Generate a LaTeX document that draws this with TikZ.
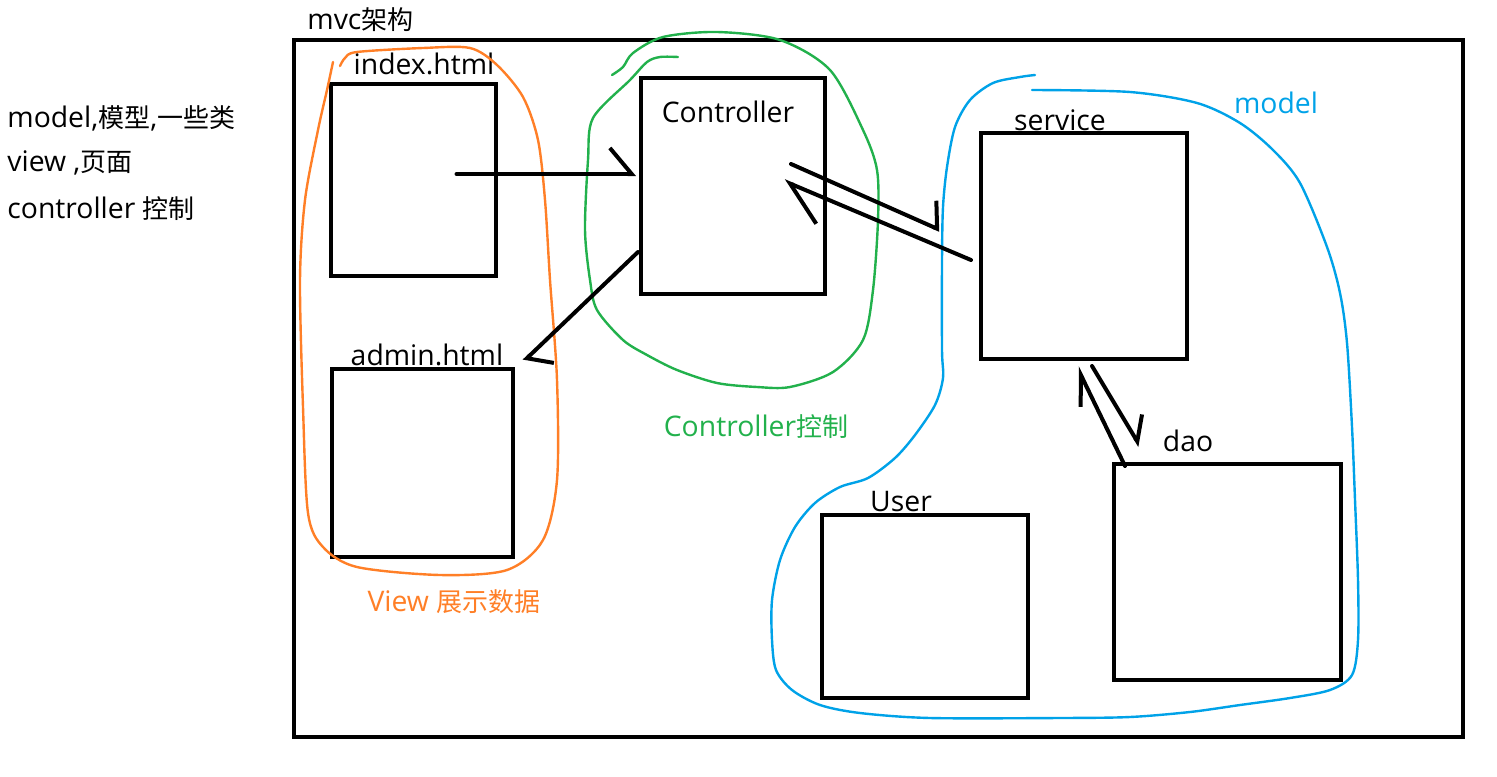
\documentclass[tikz,border=0pt]{standalone}
\usepackage{fontspec}
\setmainfont{Open Sans}[Scale=1.09]
\newfontfamily\cjk{Noto Sans CJK SC}
\usetikzlibrary{arrows.meta,positioning}

\definecolor{vieworange}{HTML}{FF7F27}
\definecolor{ctrlgreen}{HTML}{22B14C}
\definecolor{modelblue}{HTML}{00A2E8}

\begin{document}
\begin{tikzpicture}[x=0.5pt, y=-0.5pt,
    every node/.style={font=\fontsize{13}{15}\selectfont, inner sep=0pt},
    pagebox/.style={rectangle, draw, line width=2pt},
    penline/.style={line width=2pt, line cap=round},
    harp/.style 2 args={penline, -{Straight Barb[harpoon, angle=#1:#2]}},
    lasso/.style={line width=1.2pt, line cap=round, line join=round},
]
\useasboundingbox (0,0) rectangle (1497,776);

% ===== notes on the left =====
\node[anchor=west] (note1) at (7,118) {model,{\cjk 模型},{\cjk 一些类}};
\node[anchor=west] (note2) at (7,163) {view ,{\cjk 页面}};
\node[anchor=west] (note3) at (7,209) {controller {\cjk 控制}};

% ===== frame =====
\node[pagebox, minimum width=584.5pt, minimum height=348.5pt] (frame) at (878.5,388.5) {};
\node[anchor=west] (title) at (307,20) {mvc{\cjk 架构}};

% ===== boxes =====
\node[pagebox, minimum width=82.5pt, minimum height=96pt] (index) at (413.5,180) {};
\node[pagebox, minimum width=90.5pt, minimum height=94pt] (admin) at (422.5,463) {};
\node[pagebox, minimum width=92pt, minimum height=108pt] (ctrl) at (733,186) {};
\node[pagebox, minimum width=103pt, minimum height=113pt] (service) at (1084,246) {};
\node[pagebox, minimum width=113.5pt, minimum height=108pt] (dao) at (1227.5,572) {};
\node[pagebox, minimum width=103pt, minimum height=91.5pt] (user) at (925,606.5) {};

% box labels
\node (lblindex) at (424,64) {index.html};
\node (lbladmin) at (427,355) {admin.html};
\node (lblctrl) at (728,112) {Controller};
\node (lblservice) at (1060,120) {service};
\node (lbldao) at (1188,441) {dao};
\node (lbluser) at (901,502) {User};

% group labels
\node[text=vieworange] (lblview) at (454,602) {View {\cjk 展示数据}};
\node[text=ctrlgreen] (lblgroup) at (756,427) {Controller{\cjk 控制}};
\node[text=modelblue] (lblmodel) at (1276,103) {model};

% ===== hand drawn rings =====
\draw[lasso, vieworange] plot[smooth] coordinates {(333,62) (327,90) (318,130)
    (305,200) (300,280) (303,407) (308,513) (323,547) (357,567) (440,575)
    (507,570) (543,540) (557,480) (557,380) (550,280) (545,200) (538,140)
    (523,97) (497,65) (470,48) (423,48) (357,52) (345,58) (340,66)};
\draw[lasso, ctrlgreen] plot[smooth] coordinates {(612,75) (623,67) (633,53)
    (663,37) (717,32) (780,40) (830,70) (863,130) (877,170) (878,220)
    (873,290) (863,340) (833,372) (790,387) (757,387) (717,383) (677,370)
    (647,355) (623,340) (597,310) (590,280) (585,230) (588,160) (593,118)
    (630,80) (647,62) (660,57) (678,57)};
\draw[lasso, modelblue] plot[smooth] coordinates {(1032,90) (1130,92)
    (1197,103) (1240,123) (1273,150) (1300,183) (1327,247) (1340,293)
    (1347,343) (1352,427) (1355,500) (1358,580) (1358,640) (1352,675)
    (1330,690) (1290,698) (1240,705) (1190,712) (1130,717) (1060,718)
    (930,718) (860,713) (820,705) (792,690) (776,670) (772,640) (772,600)
    (780,560) (795,527) (815,503) (840,487) (868,478) (895,458) (915,435)
    (935,405) (943,378) (942,350) (942,260) (943,207) (947,167) (955,127)
    (970,100) (993,83) (1020,77) (1035,75)};

% ===== arrows =====
\draw[harp={100}{17pt}] ([shift={(43,-6)}]index.center) -- ([shift={(-3,-12)}]ctrl.west);
\draw[harp={107}{13.7pt}] ([shift={(-1,66)}]ctrl.west) -- ([shift={(9,-6)}]admin.north east);
\draw[harp={68}{24pt}] ([shift={(-8,14)}]service.west) -- ([shift={(-43,-5)}]ctrl.east);
\draw[harp={129}{14pt}] ([shift={(-36,-22)}]ctrl.east) -- ([shift={(-39,-16)}]service.west);
\draw[harp={82}{13.7pt}] ([shift={(8,5)}]service.south) -- ([shift={(28,-16)}]dao.north west);
\draw[harp={52}{16pt}] ([shift={(13,4)}]dao.north west) -- ([shift={(-7,6)}]service.south);

\end{tikzpicture}
\end{document}
